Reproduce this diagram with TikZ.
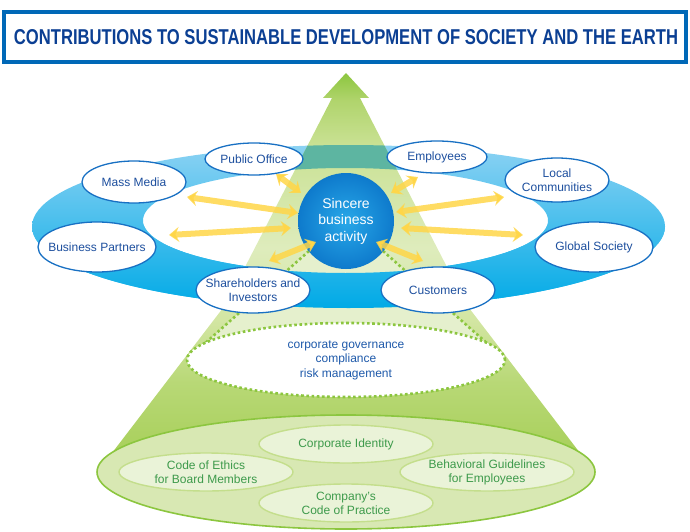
\documentclass[tikz,border=0pt]{standalone}
\usepackage{fontspec}
\usepackage{graphicx}
\setmainfont{Liberation Sans}
\usetikzlibrary{shapes.geometric,arrows.meta}
\definecolor{titleblue}{RGB}{11,63,147}
\definecolor{boxblue}{RGB}{0,104,183}
\definecolor{ringtop}{RGB}{140,210,243}
\definecolor{ringbot}{RGB}{0,170,230}
\definecolor{ringteal}{RGB}{93,181,161}
\definecolor{stakeborder}{RGB}{24,112,195}
\definecolor{staketext}{RGB}{29,79,158}
\definecolor{circin}{RGB}{40,168,232}
\definecolor{circout}{RGB}{14,122,204}
\definecolor{arrowyellow}{RGB}{255,214,72}
\definecolor{gA}{RGB}{140,198,63}
\definecolor{gB}{RGB}{176,212,108}
\definecolor{gC}{RGB}{201,225,147}
\definecolor{gD}{RGB}{222,236,188}
\definecolor{gE}{RGB}{211,230,163}
\definecolor{gF}{RGB}{184,216,118}
\definecolor{gG}{RGB}{165,206,85}
\definecolor{palecone}{RGB}{229,240,205}
\definecolor{dotgreen}{RGB}{140,198,63}
\definecolor{govtext}{RGB}{31,90,170}
\definecolor{basegreen}{RGB}{140,198,63}
\definecolor{basefill}{RGB}{216,232,179}
\definecolor{smallfill}{RGB}{234,243,216}
\definecolor{smallborder}{RGB}{196,222,140}
\definecolor{smalltext}{RGB}{61,154,75}
\pgfdeclareverticalshading{greencone}{100bp}{color(0bp)=(gG); color(25bp)=(gG); color(36bp)=(gF); color(44bp)=(gE); color(53bp)=(gD); color(66bp)=(gC); color(71.6bp)=(gB); color(75bp)=(gA); color(100bp)=(gA)}
\tikzset{
  stake/.style={ellipse, draw=stakeborder, line width=1.3pt, fill=white, inner sep=0pt},
  staketxt/.style={text=staketext, inner sep=0pt, align=center, font=\fontsize{12}{14}\selectfont},
  small/.style={ellipse, draw=smallborder, line width=1.4pt, fill=smallfill,
    inner sep=0pt, minimum width=174, minimum height=38},
  smalltxt/.style={text=smalltext, inner sep=0pt, align=center, font=\fontsize{12}{14}\selectfont},
  yarrow/.style={draw=arrowyellow, line width=6pt, draw opacity=0.85,
    arrows={Stealth[width=15pt,length=10pt,inset=3.5pt]-Stealth[width=15pt,length=10pt,inset=3.5pt]}},
  dotline/.style={draw=dotgreen, line width=2.6pt, dash pattern=on 2.6pt off 2.6pt},
  ringpath/.style={even odd rule, top color=ringtop, bottom color=ringbot}
}
\begin{document}
\begin{tikzpicture}[x=1pt,y=-1pt]
\useasboundingbox (0,0) rectangle (690,532);
% title
\node[draw=boxblue, line width=4pt, minimum width=682, minimum height=50, inner sep=0pt] (tbox) at (345,37) {};
\node[text=titleblue, inner sep=0pt] (title) at (346,37) {\resizebox{664pt}{15pt}{\bfseries CONTRIBUTIONS TO SUSTAINABLE DEVELOPMENT OF SOCIETY AND THE EARTH}};
% ring
\path[ringpath] (348.5,226.5) ellipse [x radius=316.5, y radius=81.5] (345.5,220.5) ellipse [x radius=202.5, y radius=52.5];
% green cone with arrow
\path[shading=greencone] (346,73) -- (369,98) -- (360,98) -- (466,304) -- (593,470) -- (99,470) -- (226,304) -- (332,98) -- (323,98) -- cycle;
% teal where cone passes over the upper ring
\begin{scope}
\clip (346,73) -- (369,98) -- (360,98) -- (466,304) -- (593,470) -- (99,470) -- (226,304) -- (332,98) -- (323,98) -- cycle;
\clip (0,0) rectangle (690,200);
\fill[ringteal, even odd rule] (348.5,226.5) ellipse [x radius=316.5, y radius=81.5] (345.5,220.5) ellipse [x radius=202.5, y radius=52.5];
\end{scope}
% pale cone from circle to governance ellipse
\coordinate (cl1) at (309,251);
\coordinate (cr1) at (383,251);
\coordinate (cl2) at (203,345);
\coordinate (cr2) at (489,345);
\fill[palecone] (cl1) -- (cl2) -- (cr2) -- (cr1) -- cycle;
\draw[dotline] (cl1) -- (cl2);
\draw[dotline] (cr1) -- (cr2);
\node[ellipse, fill=white, dotline, minimum width=318, minimum height=74, inner sep=0pt] (gov) at (346,360) {};
\node[text=govtext, align=center, inner sep=0pt, font=\fontsize{12}{14.5}\selectfont] (govT) at (346,360)
  {corporate governance\\compliance\\risk management};
% lower ring over the cone
\begin{scope}
\clip (0,226) rectangle (690,330);
\path[ringpath] (348.5,226.5) ellipse [x radius=316.5, y radius=81.5] (345.5,220.5) ellipse [x radius=202.5, y radius=52.5];
\end{scope}
% stakeholders
\node[stake, minimum width=98, minimum height=32] (po) at (254,159) {};
\node[staketxt] (poT) at (po) {Public Office};
\node[stake, minimum width=100, minimum height=32] (emp) at (437,157) {};
\node[staketxt] (empT) at (emp) {Employees};
\node[stake, minimum width=104, minimum height=42] (mm) at (134,182) {};
\node[staketxt] (mmT) at (mm) {Mass Media};
\node[stake, minimum width=118, minimum height=50] (bp) at (97,247) {};
\node[staketxt] (bpT) at (bp) {Business Partners};
\node[stake, minimum width=104, minimum height=44] (lc) at (557,180) {};
\node[staketxt] (lcT) at (lc) {Local\\Communities};
\node[stake, minimum width=118, minimum height=50] (gs) at (594,247) {};
\node[staketxt] (gsT) at (gs) {Global Society};
\node[stake, minimum width=114, minimum height=46] (sh) at (253,290) {};
\node[staketxt] (shT) at (sh) {Shareholders and\\Investors};
\node[stake, minimum width=114, minimum height=46] (cu) at (438,290) {};
\node[staketxt] (cuT) at (cu) {Customers};
% centre circle
\node[circle, minimum size=96, inner sep=0pt, inner color=circin, outer color=circout,
  text=white, align=center, font=\fontsize{14}{16.5}\selectfont] (sba) at (346,221) {Sincere\\business\\activity};
% yellow arrows
\coordinate (a1) at (276,174); \coordinate (b1) at (301,193);
\coordinate (a2) at (418,177); \coordinate (b2) at (391,193);
\coordinate (a3) at (187,197); \coordinate (b3) at (298,213);
\coordinate (a4) at (169,235); \coordinate (b4) at (291,228);
\coordinate (a5) at (504,197); \coordinate (b5) at (396,212);
\coordinate (a6) at (523,235); \coordinate (b6) at (401,228);
\coordinate (a7) at (269,261); \coordinate (b7) at (316,242);
\coordinate (a8) at (423,261); \coordinate (b8) at (376,242);
\foreach \i in {1,...,8} {\draw[yarrow] (a\i) -- (b\i);}
% base
\node[ellipse, draw=basegreen, line width=1.6pt, fill=basefill, minimum width=498, minimum height=114, inner sep=0pt] (base) at (346,472) {};
\node[small] (ci) at (346,444) {};
\node[smalltxt] (ciT) at (ci) {Corporate Identity};
\node[small] (ce) at (206,472) {};
\node[smalltxt] (ceT) at (ce) {Code of Ethics\\for Board Members};
\node[small] (bg) at (487,472) {};
\node[smalltxt] (bgT) at (bg) {Behavioral Guidelines\\for Employees};
\node[small] (cc) at (346,503) {};
\node[smalltxt] (ccT) at (cc) {Company's\\Code of Practice};
\end{tikzpicture}
\end{document}
